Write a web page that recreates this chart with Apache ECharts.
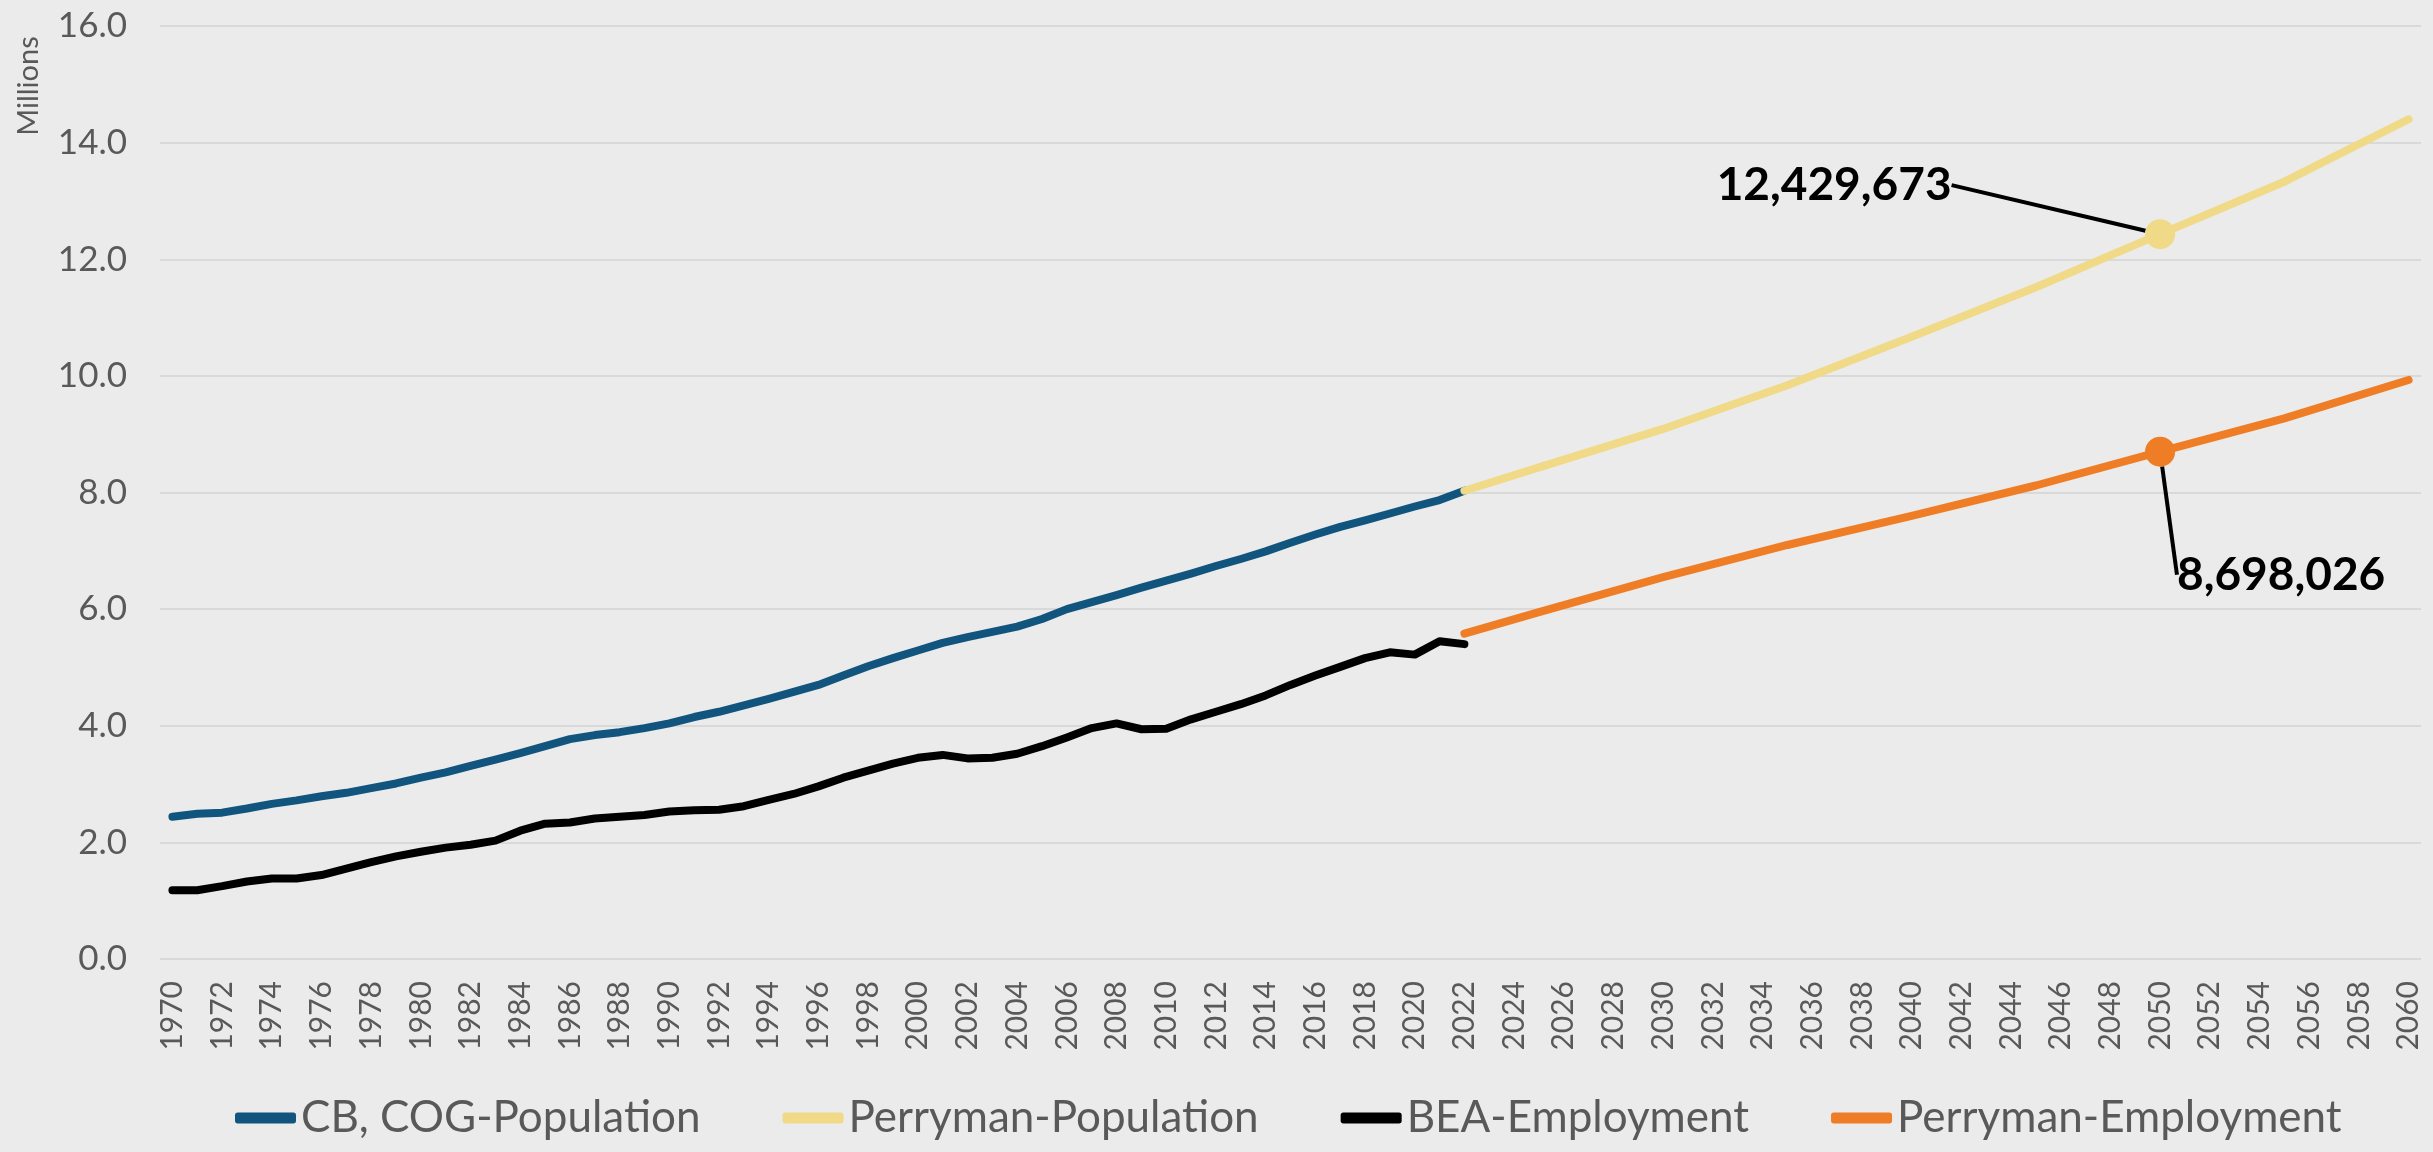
<!DOCTYPE html>
<html>
<head>
<meta charset="utf-8">
<title>Population and Employment</title>
<script src="https://cdn.jsdelivr.net/npm/echarts@6/dist/echarts.min.js"></script>
<style>
    html, body {
        margin: 0;
        padding: 0;
        background: #ebebeb;
    }
    #main {
        width: 2433px;
        height: 1152px;
    }
</style>
</head>
<body>
<div id="main"></div>
<script>
// years on the x axis
const years = [];
for (let y = 1970; y <= 2060; y++) years.push(String(y));

// historical series, 1970 - 2022 (millions)
const cbPopulation = [
    2.44, 2.49, 2.51, 2.58, 2.66, 2.72, 2.79, 2.85, 2.93, 3.01,
    3.11, 3.20, 3.31, 3.42, 3.53, 3.65, 3.77, 3.84, 3.89, 3.96,
    4.04, 4.15, 4.24, 4.35, 4.46, 4.58, 4.70, 4.86, 5.02, 5.16,
    5.29, 5.42, 5.52, 5.61, 5.70, 5.83, 6.00, 6.12, 6.24, 6.37,
    6.49, 6.61, 6.74, 6.86, 6.99, 7.14, 7.28, 7.41, 7.52, 7.64,
    7.76, 7.87, 8.03
];
const beaEmployment = [
    1.18, 1.18, 1.25, 1.33, 1.38, 1.38, 1.44, 1.55, 1.66, 1.76,
    1.84, 1.91, 1.96, 2.03, 2.20, 2.32, 2.34, 2.41, 2.44, 2.47,
    2.53, 2.55, 2.56, 2.62, 2.73, 2.83, 2.96, 3.11, 3.23, 3.35,
    3.45, 3.50, 3.44, 3.45, 3.52, 3.65, 3.80, 3.96, 4.04, 3.94,
    3.95, 4.11, 4.24, 4.37, 4.52, 4.70, 4.86, 5.01, 5.16, 5.26,
    5.22, 5.45, 5.40
];

// Perryman projections, 5-year points (millions)
const projYears = ['2022', '2025', '2030', '2035', '2040', '2045', '2050', '2055', '2060'];
const perrymanPopulation = [8.03, 8.43, 9.09, 9.84, 10.67, 11.52, 12.43, 13.33, 14.40];
const perrymanEmployment = [5.58, 5.95, 6.55, 7.10, 7.60, 8.12, 8.70, 9.27, 9.93];

// highlighted year and its callout texts
const highlightYear = '2050';
const popCallout = '12,429,673';
const empCallout = '8,698,026';

const textColor = '#595959';
const fontFamily = 'Lato, "Open Sans", sans-serif';

function projectionData(values, color, callout) {
    return years.map((y) => {
        const i = projYears.indexOf(y);
        if (i < 0) return null;
        if (y === highlightYear) {
            return {
                value: values[i],
                symbol: 'circle',
                symbolSize: 30,
                itemStyle: { color: color },
                label: {
                    show: true,
                    position: 'inside',
                    formatter: callout,
                    fontFamily: fontFamily,
                    fontSize: 46,
                    fontWeight: 'bold',
                    color: '#000'
                }
            };
        }
        return values[i];
    });
}

const myChart = echarts.init(document.getElementById('main'));

const option = {
    animation: false,
    backgroundColor: '#ebebeb',
    textStyle: { fontFamily: fontFamily },
    grid: {
        left: 160,
        right: 12,
        top: 26,
        bottom: 193
    },
    graphic: [
        {
            type: 'text',
            x: 29,
            y: 86,
            rotation: Math.PI / 2,
            style: {
                text: 'Millions',
                fill: textColor,
                font: '29px ' + fontFamily,
                align: 'center',
                verticalAlign: 'middle'
            }
        }
    ],
    legend: {
        top: 1090,
        left: 230,
        icon: 'roundRect',
        itemWidth: 61,
        itemHeight: 11,
        itemGap: 82,
        textStyle: {
            color: textColor,
            fontSize: 44,
            lineHeight: 46,
            fontFamily: fontFamily
        },
        data: ['CB, COG-Population', 'Perryman-Population', 'BEA-Employment', 'Perryman-Employment']
    },
    xAxis: {
        type: 'category',
        data: years,
        axisLine: { show: false },
        axisTick: { show: false },
        axisLabel: {
            interval: 1,
            rotate: 90,
            margin: 22,
            color: textColor,
            fontSize: 30,
            fontFamily: fontFamily
        }
    },
    yAxis: {
        type: 'value',
        min: 0,
        max: 16,
        interval: 2,
        axisLine: { show: false },
        axisTick: { show: false },
        axisLabel: {
            margin: 33,
            color: textColor,
            fontSize: 35,
            fontFamily: fontFamily,
            formatter: (v) => v.toFixed(1)
        },
        splitLine: {
            lineStyle: { color: '#d9d9d9', width: 2 }
        }
    },
    series: [
        {
            name: 'CB, COG-Population',
            type: 'line',
            data: cbPopulation,
            symbol: 'none',
            color: '#11557f',
            lineStyle: { width: 8, cap: 'round', join: 'round' },
            z: 2
        },
        {
            name: 'BEA-Employment',
            type: 'line',
            data: beaEmployment,
            symbol: 'none',
            color: '#000000',
            lineStyle: { width: 8, cap: 'round', join: 'round' },
            z: 2
        },
        {
            name: 'Perryman-Population',
            type: 'line',
            data: projectionData(perrymanPopulation, '#f0da88', popCallout),
            connectNulls: true,
            symbol: 'none',
            color: '#f0da88',
            lineStyle: { width: 8, cap: 'round', join: 'round' },
            labelLayout: { dx: -326, dy: -49 },
            labelLine: {
                show: true,
                lineStyle: { color: '#000', width: 4 }
            },
            z: 3
        },
        {
            name: 'Perryman-Employment',
            type: 'line',
            data: projectionData(perrymanEmployment, '#ee7d26', empCallout),
            connectNulls: true,
            symbol: 'none',
            color: '#ee7d26',
            lineStyle: { width: 8, cap: 'round', join: 'round' },
            labelLayout: { dx: 121, dy: 123 },
            labelLine: {
                show: true,
                lineStyle: { color: '#000', width: 4 }
            },
            z: 3
        }
    ]
};

myChart.setOption(option);
</script>
</body>
</html>
